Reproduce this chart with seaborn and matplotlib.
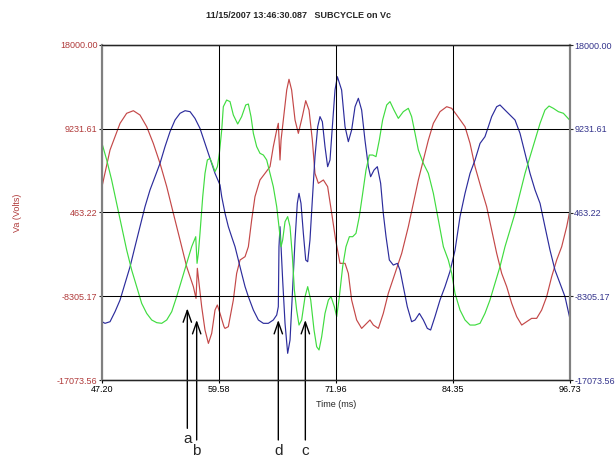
import matplotlib
matplotlib.use("Agg")
import matplotlib.pyplot as plt
import seaborn as sns

# Waveforms: time in ms, value in volts
red_t = [47.20, 48.05, 49.11, 49.81, 50.52, 51.22, 51.93, 52.63, 53.34, 54.05, 54.75, 55.46, 56.16,
         56.87, 57.15, 57.29, 57.43, 57.75, 58.10, 58.46, 58.81, 59.16, 59.41, 59.69, 60.11,
         60.22, 60.57, 61.10, 61.45, 61.81, 62.34, 62.69, 63.04, 63.39, 63.92, 64.45, 64.98, 65.33,
         65.69, 65.86, 66.04, 66.15, 66.39, 66.75, 66.99, 67.27, 67.63, 67.98, 68.40, 68.76, 69.11,
         69.46, 69.74, 70.10, 70.63, 71.08, 71.51, 71.93, 72.39,
         72.56, 72.92, 73.27, 73.62, 74.15, 74.68, 75.21, 75.56, 75.92, 76.45, 76.97, 77.50, 78.21,
         78.92, 79.62, 80.15, 80.68, 81.21, 81.74, 82.27, 82.97, 83.68, 84.21,
         84.74, 85.62, 86.15, 86.68, 87.38, 87.91, 88.44, 88.97, 89.50, 90.03, 90.56, 91.09, 91.62,
         92.14, 92.67, 93.20, 93.73, 94.26, 94.79, 95.32, 95.85, 96.38, 96.73]
red_v = [3170, 7010, 9800, 10850, 11120, 10670, 9450, 7700, 5610, 3170, 380, -2420, -5210,
         -7300, -8530, -5380, -6610, -9400, -11840, -13240, -12190, -9750, -9220, -10100, -11490,
         -11670, -11490, -8700, -5910, -4510, -4160, -3120, -320, 2120, 3870, 4560, 5260, 7360,
         9100, 9800, 5960, 8050, 10150, 13290, 14410, 13290, 10150, 8750, 10500, 12170, 11190,
         8050, 4560, 3520, 3870, 3170, 380, -2420, -4860,
         -4860, -4860, -5910, -8700, -10790, -11670, -11140, -10790, -11320, -11670, -10100, -8000, -5910,
         -3810, -1020, 1420, 3870, 5960, 8050, 9800, 11020, 11540, 11370,
         10670, 9450, 7700, 5260, 2820, 1070, -1370, -3810, -5910, -7300, -9050, -10440, -11320,
         -10970, -10620, -10620, -9750, -8350, -6260, -4510, -3120, -1020, 720]

blue_t = [47.20, 47.52, 48.05, 48.58, 49.11, 49.64, 50.17, 50.69, 51.22, 51.75, 52.28, 52.81, 53.34,
          53.87, 54.40, 54.93, 55.46, 55.99, 56.52, 57.04, 57.57, 58.10, 58.63, 59.16, 59.69,
          59.87, 60.22, 60.57, 60.92, 61.28, 61.63, 61.98, 62.34, 62.69, 63.22, 63.75, 64.28, 64.80,
          65.33, 65.69, 65.86, 65.93, 66.04, 66.15, 66.32, 66.57, 66.85, 67.10, 67.35, 67.63, 67.87,
          68.05, 68.26, 68.51, 68.76, 68.97, 69.21, 69.46, 69.74, 70.03, 70.27, 70.52, 70.80, 71.08,
          71.33, 71.58, 71.86, 72.11,
          72.56, 72.92, 73.27, 73.62, 73.98, 74.33, 74.68, 75.03, 75.39, 75.63, 75.99, 76.34, 76.69,
          76.97, 77.26, 77.61, 78.03, 78.46, 78.74, 79.09, 79.51, 79.97, 80.33, 80.79, 81.21, 81.63,
          81.98, 82.44, 82.97, 83.50, 84.03, 84.56,
          85.09, 85.62, 86.15, 86.68, 87.21, 87.73, 88.09, 88.44, 88.97, 89.32, 89.85, 90.38, 90.91,
          91.44, 91.97, 92.50, 93.03, 93.56, 94.08, 94.61, 95.14, 95.67, 96.20, 96.73]
blue_v = [-10970, -11140, -10970, -9920, -8700, -6950, -5210, -3120, -1020, 1070, 2820, 4210, 5610,
          7360, 8930, 10150, 10850, 11120, 11020, 10320, 9270, 7700, 6130, 4560, 3340,
          2120, 380, -1020, -2070, -3120, -4510, -5910, -7300, -8350, -9750, -10790, -11140, -11140,
          -10790, -10270, -9400, -3120, -1020, -3120, -6610, -11140, -14280, -12890, -8000, -2420, 1420,
          2470, 1420, -1720, -4510, -4690, -2420, 1770, 6310, 9450, 10500, 9970, 7360, 5260,
          5960, 9450, 13290, 14680,
          13290, 9450, 7880, 9100, 11540, 12420, 11190, 8050, 5260, 4210, 4910, 5260, 3520,
          380, -2070, -4510, -5040, -4860, -5560, -7300, -9400, -10970, -10790, -10100, -10790, -11670,
          -11840, -10440, -8700, -7300, -5700, -3500,
          30, 2470, 4560, 5960, 7700, 8400, 9450, 10500, 11540, 11720, 11190, 10670, 10150,
          8750, 6660, 4560, 2820, 1420, -1020, -3460, -5560, -6950, -8350, -10700]

green_t = [47.20, 47.70, 48.22, 48.75, 49.28, 49.81, 50.34, 50.87, 51.40, 51.93, 52.46, 52.99, 53.52,
           54.05, 54.58, 55.10, 55.63, 56.16, 56.69, 57.12, 57.26, 57.40, 57.57, 57.86, 58.10, 58.35,
           58.63, 58.91, 59.16, 59.41, 59.62, 59.87,
           60.04, 60.39, 60.75, 61.10, 61.56, 61.98, 62.41, 62.69, 62.97, 63.22, 63.57, 63.92, 64.28,
           64.63, 64.98, 65.33, 65.69, 65.93, 66.15, 66.32, 66.57, 66.85, 67.10, 67.35, 67.56, 67.80,
           68.05, 68.33, 68.69, 68.97, 69.29, 69.64, 69.92, 70.17, 70.45, 70.80, 71.16, 71.44, 71.79,
           72.04,
           72.32, 72.67, 73.02, 73.38, 73.73, 74.08, 74.43, 74.79, 75.14, 75.49, 75.85, 76.20, 76.55,
           76.90, 77.33, 77.68, 78.10, 78.56, 79.09, 79.62, 79.97, 80.33, 80.68, 81.21, 81.74, 82.27,
           82.80, 83.33, 83.85, 84.21,
           84.56, 85.09, 85.62, 86.15, 86.68, 87.21, 87.73, 88.26, 88.79, 89.32, 89.85, 90.38, 90.91,
           91.44, 91.97, 92.50, 93.03, 93.56, 94.08, 94.51, 94.97, 95.50, 96.03, 96.73]
green_v = [7700, 5960, 3870, 1420, -1020, -3460, -5560, -7300, -9050, -10100, -10790, -11070, -11140,
           -10790, -9920, -8350, -6610, -4860, -3120, -2070, -4860, -3810, -1720, 2120, 4560, 5960,
           6130, 5440, 4740, 5260, 6660, 9100,
           11540, 12240, 12070, 10670, 9730, 10500, 11720, 11820, 10500, 8750, 7360, 6660, 6480,
           5960, 4560, 3170, 1070, -1020, -3120, -2420, -500, 30, -1020, -4160, -7650, -9750,
           -11320, -10790, -8350, -7300, -8700, -11840, -13590, -13930, -12540, -10100, -8700, -8350, -9400,
           -10440,
           -8350, -5210, -3120, -2070, -2070, -1720, 30, 2470, 4910, 6480, 6480, 6310, 8050,
           10150, 11720, 12070, 11190, 10320, 11020, 11370, 10500, 8750, 7010, 5610, 4560, 2470,
           -320, -3120, -4510, -5910,
           -8000, -9750, -10790, -11320, -11320, -11140, -10100, -8700, -6950, -5210, -3120, -1370, 380,
           2470, 4560, 6310, 8050, 9800, 11190, 11610, 11370, 11020, 10850, 10100]

x_ticks = [47.20, 59.58, 71.96, 84.35, 96.73]
y_ticks = [18000.00, 9231.61, 463.22, -8305.17, -17073.56]

# event markers under the plot
event_t = [56.23, 57.22, 65.86, 68.72]
event_v = [-9570, -10790, -10790, -10790]
event_labels = ["a", "b", "d", "c"]

RED = "#c44848"
BLUE = "#2c2c9c"
GREEN = "#40dc40"

sns.set_style("white")
plt.rcParams['font.family'] = ['Liberation Sans', 'DejaVu Sans']

fig = plt.figure(figsize=(6.16, 4.57), dpi=100)
ax = fig.add_axes([102 / 616, 1 - 380 / 457, 468 / 616, 335 / 457])

sns.lineplot(x=red_t, y=red_v, color=RED, lw=0.85, ax=ax, sort=False, estimator=None)
sns.lineplot(x=blue_t, y=blue_v, color=BLUE, lw=0.85, ax=ax, sort=False, estimator=None)
sns.lineplot(x=green_t, y=green_v, color=GREEN, lw=0.85, ax=ax, sort=False, estimator=None)

ax.set_xlim(x_ticks[0], x_ticks[-1])
ax.set_ylim(y_ticks[-1], y_ticks[0])
ax.set_xticks(x_ticks)
ax.set_xticklabels([f"{v:.2f}" for v in x_ticks])
ax.set_yticks(y_ticks)
ax.set_yticklabels([f"{v:.2f}" for v in y_ticks])
ax.grid(True, color="black", lw=0.75)
ax.set_axisbelow(False)

ax.tick_params(axis="x", length=2.2, pad=1.5, labelsize=6.5, colors="black", direction="out", bottom=True)
ax.tick_params(axis="y", length=2.2, pad=1, labelsize=6.5, labelcolor="#b03a3a", direction="out", left=True)

ax.set_xlabel("Time (ms)", fontsize=6.5, labelpad=4)
ax.set_ylabel("Va (Volts)", fontsize=6.5, color="#b03a3a")
ax.yaxis.set_label_coords(-0.17, 0.5)

for side in ["top", "bottom"]:
    ax.spines[side].set_color("black")
    ax.spines[side].set_linewidth(1)
for side in ["left", "right"]:
    ax.spines[side].set_color("#808080")
    ax.spines[side].set_linewidth(1.5)

ax2 = ax.twinx()
ax2.set_ylim(y_ticks[-1], y_ticks[0])
ax2.set_yticks(y_ticks)
ax2.set_yticklabels([f"{v:.2f}" for v in y_ticks])
ax2.tick_params(axis="y", length=2, pad=1, labelsize=6.5, labelcolor="#34348c", right=True, direction="out")
for side in ["left", "right"]:
    ax2.spines[side].set_color("#808080")
    ax2.spines[side].set_linewidth(1.5)

fig.text(298 / 616, 1 - 16 / 457, "11/15/2007 13:46:30.087   SUBCYCLE on Vc",
         ha="center", va="center", fontsize=6.5, fontweight="bold")

for t, v, lab in zip(event_t, event_v, event_labels):
    ax.annotate("", xy=(t, v), xytext=(0, -120), textcoords="offset pixels",
                annotation_clip=False,
                arrowprops=dict(arrowstyle="->,head_length=0.85,head_width=0.3", color="black",
                                lw=1, shrinkA=0, shrinkB=0, mutation_scale=10))
    ax.annotate(lab, xy=(t, v), xytext=(0, -131), textcoords="offset pixels",
                ha="center", va="center", fontsize=11, annotation_clip=False)

fig.savefig("out.png", dpi=100)
